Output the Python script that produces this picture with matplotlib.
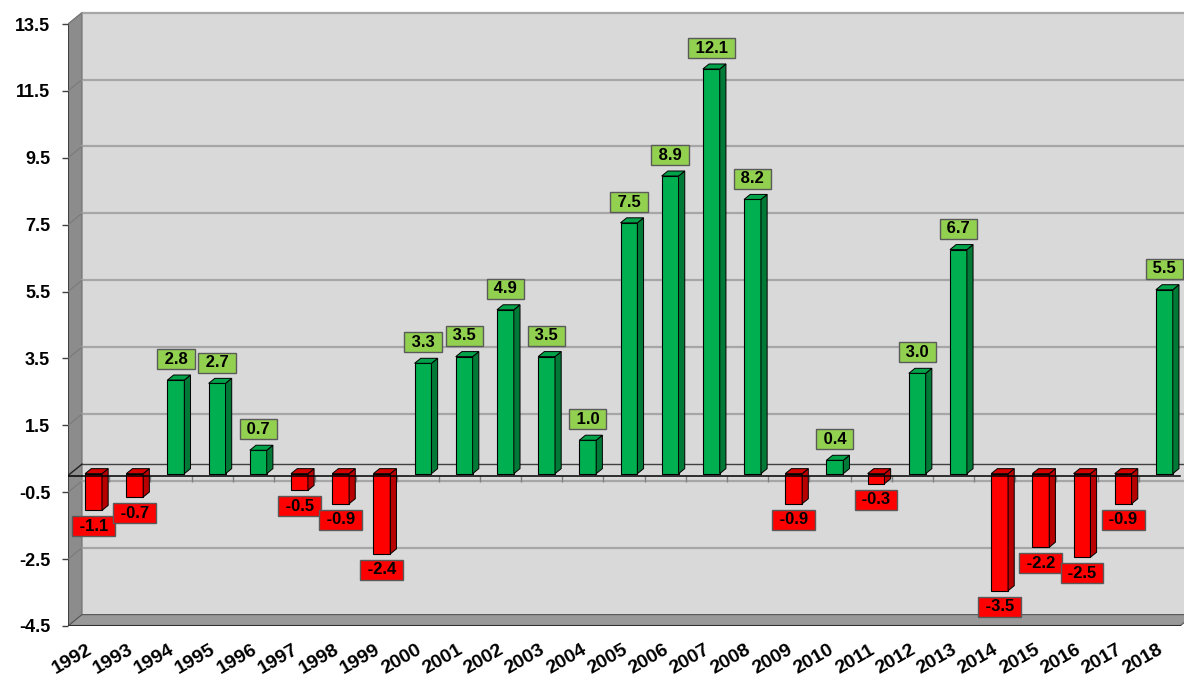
import numpy as np
import matplotlib.pyplot as plt
from matplotlib.patches import Polygon
from matplotlib.transforms import ScaledTranslation

plt.rcParams['font.family'] = ['Liberation Sans', 'DejaVu Sans']
plt.rcParams['font.weight'] = 'bold'

years = [str(y) for y in range(1992, 2019)]
values = [-1.1, -0.7, 2.8, 2.7, 0.7, -0.5, -0.9, -2.4, 3.3, 3.5, 4.9, 3.5, 1.0,
          7.5, 8.9, 12.1, 8.2, -0.9, 0.4, -0.3, 3.0, 6.7, -3.5, -2.2, -2.5, -0.9, 5.5]
y_ticks = [-4.5, -2.5, -0.5, 1.5, 3.5, 5.5, 7.5, 9.5, 11.5, 13.5]

# pseudo 3d geometry (data units)
DX, DY = 0.34, 0.34          # depth of the chart box
BAR_DX, BAR_DY = 0.15, 0.15  # depth of a bar
BAR_W = 0.41
BAR_SHIFT = 0.12
BAR_Y0 = 0.055

Y_MIN, Y_MAX = y_ticks[0], y_ticks[-1]
X_LEFT, X_FRONT_RIGHT = -0.5, len(years) - 0.5
X_RIGHT = X_FRONT_RIGHT + 0.097

fig = plt.figure(figsize=(11.84, 6.76), dpi=100)
ax = fig.add_axes([68 / 1184, 50 / 676, 1 - 68 / 1184, 626 / 676])
ax.set_xlim(X_LEFT, X_RIGHT)
ax.set_ylim(Y_MIN, Y_MAX + 0.718)
for s in ax.spines.values():
    s.set_visible(False)

# walls and floor
ax.add_patch(Polygon([(X_LEFT + DX, Y_MIN + DY), (X_RIGHT + 1, Y_MIN + DY),
                      (X_RIGHT + 1, Y_MAX + DY), (X_LEFT + DX, Y_MAX + DY)],
                     closed=True, fc='#d9d9d9', ec='none', zorder=0))
ax.add_patch(Polygon([(X_LEFT, Y_MIN), (X_LEFT, Y_MAX), (X_LEFT + DX, Y_MAX + DY),
                      (X_LEFT + DX, Y_MIN + DY)],
                     closed=True, fc='#8c8c8c', ec='#6e6e6e', lw=0.8, zorder=0.5))
ax.add_patch(Polygon([(X_LEFT, Y_MIN), (X_FRONT_RIGHT, Y_MIN),
                      (X_FRONT_RIGHT + DX, Y_MIN + DY), (X_LEFT + DX, Y_MIN + DY)],
                     closed=True, fc='#999999', ec='#555555', lw=0.8, zorder=0.5))
ax.plot([X_LEFT, X_LEFT], [Y_MIN, Y_MAX], color='#404040', lw=1.5, zorder=0.6)
ax.plot([X_LEFT, X_FRONT_RIGHT], [Y_MIN, Y_MIN], color='#303030', lw=1.5, zorder=0.6)

# gridlines on back wall and left wall
for t in y_ticks[1:]:
    ax.plot([X_LEFT + DX, X_RIGHT + 1], [t + DY, t + DY], color='#a6a6a6', lw=1.6, zorder=1)
    ax.plot([X_LEFT, X_LEFT + DX], [t, t + DY], color='#7a7a7a', lw=0.8, zorder=1)

# zero plane
ax.plot([X_LEFT + DX, X_RIGHT + 1], [DY, DY], color='#404040', lw=1.0, zorder=1.5)
ax.plot([X_LEFT, X_LEFT + DX], [0, DY], color='#202020', lw=1.0, zorder=1.5)
ax.vlines(np.arange(1, len(years)) - 0.5, -0.18, 0, color='#808080', lw=1.0, zorder=1.5)
ax.plot([X_LEFT, X_FRONT_RIGHT], [0, 0], color='black', lw=1.1, zorder=4)

# bars
x = np.arange(len(years)) + BAR_SHIFT
front = ['#00b050' if v > 0 else '#ff0000' for v in values]
side = ['#007a36' if v > 0 else '#b80000' for v in values]
top = ['#00a24a' if v > 0 else '#d40000' for v in values]
ax.bar(x, values, width=BAR_W, bottom=BAR_Y0, color=front, edgecolor='black',
       lw=0.8, zorder=3)
for xi, v, sc, tc in zip(x, values, side, top):
    x1 = xi + BAR_W / 2
    x0 = xi - BAR_W / 2
    ytop = BAR_Y0 + max(v, 0)
    ybot = BAR_Y0 + min(v, 0)
    ax.add_patch(Polygon([(x1, ybot), (x1 + BAR_DX, ybot + BAR_DY),
                          (x1 + BAR_DX, ytop + BAR_DY), (x1, ytop)],
                         closed=True, fc=sc, ec='black', lw=0.7, zorder=3))
    ax.add_patch(Polygon([(x0, ytop), (x1, ytop), (x1 + BAR_DX, ytop + BAR_DY),
                          (x0 + BAR_DX, ytop + BAR_DY)],
                         closed=True, fc=tc, ec='black', lw=0.7, zorder=3))

# data labels
for xi, v in zip(x, values):
    pos = v > 0
    ax.annotate(f' {v:.1f} ', xy=(xi, BAR_Y0 + v), xytext=(0, 15 if pos else -11.5),
                textcoords='offset points', ha='center', va='center',
                fontsize=12, fontweight='bold', color='black', zorder=5,
                bbox=dict(boxstyle='square,pad=0.15',
                          fc='#92d050' if pos else '#ff0000',
                          ec='#5a5a5a', lw=1.0))

# axes ticks
ax.set_yticks(y_ticks)
ax.set_yticklabels([f'{t:.1f}' for t in y_ticks])
ax.tick_params(axis='y', length=4.3, width=1, color='#404040', pad=8.5, labelsize=13)
ax.set_xticks(np.arange(len(years)))
ax.set_xticklabels(years)
ax.tick_params(axis='x', length=0, pad=11, labelsize=14)
shift = ScaledTranslation(-2 / 100, 0, fig.dpi_scale_trans)
for lab in ax.get_xticklabels():
    lab.set_rotation(30)
    lab.set_ha('right')
    lab.set_rotation_mode('anchor')
    lab.set_transform(lab.get_transform() + shift)

fig.savefig('out.png', dpi=100)
